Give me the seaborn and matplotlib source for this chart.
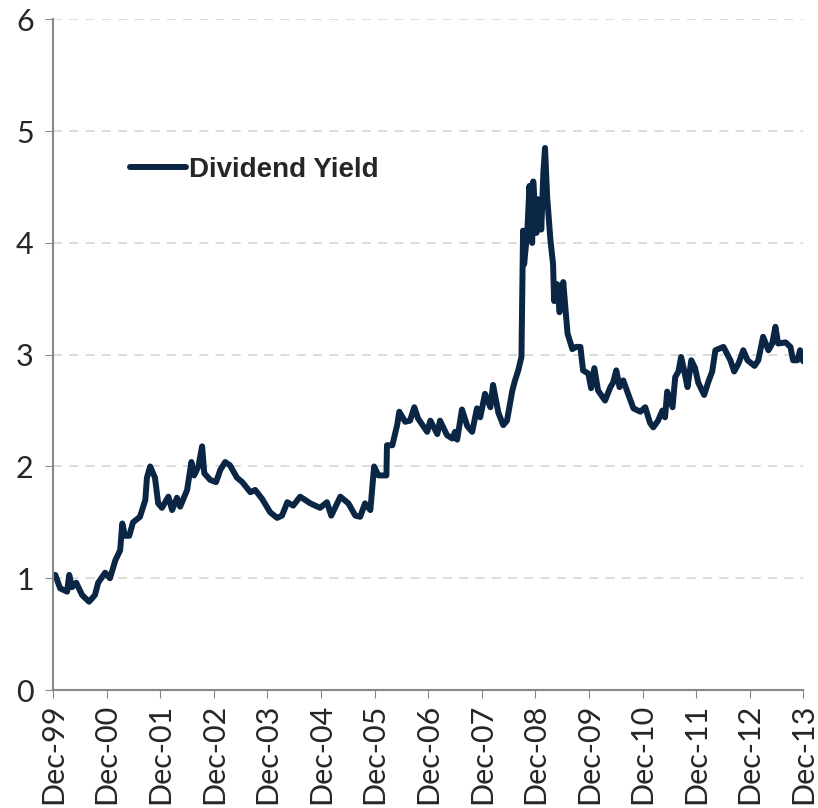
import pandas as pd
import seaborn as sns
import matplotlib.pyplot as plt

# dividend yield, x as decimal year (Dec-99 = 2000.0)
year = [2000.04, 2000.13, 2000.26, 2000.30, 2000.35, 2000.43, 2000.54, 2000.67, 2000.78, 2000.84,
        2000.97, 2001.06, 2001.16, 2001.25, 2001.29, 2001.34, 2001.42, 2001.49, 2001.62, 2001.72,
        2001.75, 2001.81, 2001.90, 2001.96, 2002.03, 2002.15, 2002.22, 2002.31, 2002.37, 2002.50,
        2002.58, 2002.63, 2002.71, 2002.78, 2002.82, 2002.93, 2003.04, 2003.12, 2003.21, 2003.30,
        2003.43, 2003.53, 2003.68, 2003.77, 2003.90, 2004.05, 2004.18, 2004.27, 2004.37, 2004.48,
        2004.61, 2004.80, 2004.98, 2005.11, 2005.19, 2005.36, 2005.51, 2005.64, 2005.73, 2005.82,
        2005.92, 2005.99, 2006.07, 2006.22, 2006.23, 2006.33, 2006.42, 2006.46, 2006.57, 2006.66,
        2006.74, 2006.81, 2006.98, 2007.04, 2007.17, 2007.22, 2007.35, 2007.45, 2007.50, 2007.54,
        2007.63, 2007.73, 2007.82, 2007.91, 2007.97, 2008.06, 2008.16, 2008.21, 2008.31, 2008.40,
        2008.47, 2008.57, 2008.62, 2008.68, 2008.74, 2008.77, 2008.79, 2008.85, 2008.89, 2008.94,
        2008.96, 2009.02, 2009.05, 2009.11, 2009.15, 2009.18, 2009.22, 2009.28, 2009.33, 2009.35,
        2009.41, 2009.45, 2009.50, 2009.52, 2009.60, 2009.69, 2009.76, 2009.84, 2009.89, 2009.99,
        2010.04, 2010.10, 2010.17, 2010.30, 2010.40, 2010.45, 2010.51, 2010.57, 2010.64, 2010.73,
        2010.83, 2010.96, 2011.05, 2011.14, 2011.20, 2011.29, 2011.37, 2011.42, 2011.46, 2011.56,
        2011.61, 2011.67, 2011.72, 2011.78, 2011.84, 2011.91, 2011.98, 2012.04, 2012.15, 2012.23,
        2012.30, 2012.36, 2012.51, 2012.64, 2012.71, 2012.79, 2012.88, 2012.96, 2013.09, 2013.16,
        2013.25, 2013.35, 2013.42, 2013.48, 2013.53, 2013.67, 2013.76, 2013.81, 2013.89, 2013.94,
        2014.00]
dividend_yield = [1.03, 0.91, 0.88, 1.03, 0.92, 0.96, 0.85, 0.79, 0.85, 0.96,
                  1.05, 1.00, 1.16, 1.25, 1.49, 1.38, 1.38, 1.50, 1.55, 1.70,
                  1.90, 2.00, 1.90, 1.67, 1.63, 1.73, 1.61, 1.72, 1.64, 1.79,
                  2.04, 1.92, 2.00, 2.18, 1.94, 1.88, 1.86, 1.97, 2.04, 2.01,
                  1.90, 1.86, 1.77, 1.79, 1.71, 1.59, 1.54, 1.56, 1.68, 1.65,
                  1.73, 1.67, 1.63, 1.68, 1.56, 1.73, 1.67, 1.56, 1.55, 1.67,
                  1.61, 2.00, 1.92, 1.92, 2.19, 2.19, 2.37, 2.49, 2.40, 2.41,
                  2.53, 2.43, 2.31, 2.41, 2.29, 2.41, 2.28, 2.25, 2.31, 2.24,
                  2.51, 2.36, 2.31, 2.52, 2.44, 2.65, 2.53, 2.73, 2.48, 2.37,
                  2.41, 2.68, 2.77, 2.86, 2.98, 4.11, 3.81, 4.11, 4.51, 4.00,
                  4.55, 4.09, 4.39, 4.12, 4.64, 4.85, 4.41, 4.03, 3.81, 3.48,
                  3.63, 3.38, 3.46, 3.65, 3.19, 3.05, 3.07, 3.07, 2.86, 2.83,
                  2.70, 2.88, 2.68, 2.59, 2.71, 2.75, 2.86, 2.71, 2.77, 2.65,
                  2.52, 2.49, 2.53, 2.39, 2.35, 2.41, 2.50, 2.44, 2.67, 2.53,
                  2.80, 2.85, 2.98, 2.85, 2.71, 2.95, 2.88, 2.75, 2.64, 2.76,
                  2.85, 3.04, 3.07, 2.95, 2.85, 2.92, 3.04, 2.95, 2.90, 2.95,
                  3.16, 3.04, 3.10, 3.25, 3.10, 3.11, 3.07, 2.95, 2.95, 3.04,
                  2.94]

tick_years = list(range(2000, 2015))
tick_labels = ["Dec-99", "Dec-00", "Dec-01", "Dec-02", "Dec-03", "Dec-04", "Dec-05", "Dec-06",
               "Dec-07", "Dec-08", "Dec-09", "Dec-10", "Dec-11", "Dec-12", "Dec-13"]

df = pd.DataFrame({"year": year, "yield": dividend_yield})

sns.set_style("white")
plt.rcParams["font.family"] = ["Lato", "DejaVu Sans"]

fig = plt.figure(figsize=(8.18, 8.08), dpi=100)
ax = fig.add_axes([0.065, 0.146, 0.917, 0.83])

sns.lineplot(data=df, x="year", y="yield", ax=ax, color="#0b2545", linewidth=4.3,
             label="Dividend Yield")

ax.set_xlim(2000, 2014)
ax.set_ylim(0, 6)
ax.set_xticks(tick_years)
ax.set_xticklabels(tick_labels, rotation=90, fontsize=22)
ax.set_yticks(range(0, 7))
ax.tick_params(axis="y", labelsize=22, length=6, color="#888888", direction="out", left=True, pad=8)
ax.tick_params(axis="x", length=6, color="#888888", direction="out", bottom=True, pad=4)
ax.set_xlabel("")
ax.set_ylabel("")

ax.yaxis.grid(True, linestyle=(0, (5, 4)), color="#d9d9d9", linewidth=1.3)
ax.set_axisbelow(True)
for s in ["top", "right"]:
    ax.spines[s].set_visible(False)
for s in ["left", "bottom"]:
    ax.spines[s].set_color("#888888")
    ax.spines[s].set_linewidth(1.5)

leg = ax.legend(loc="center left", bbox_to_anchor=(0.103, 0.776), frameon=False,
                borderaxespad=0, borderpad=0, handlelength=2.0, handletextpad=0.1,
                prop={"family": ["Liberation Sans", "DejaVu Sans"], "size": 20, "weight": "bold"})

fig.savefig("out.png", dpi=100)
